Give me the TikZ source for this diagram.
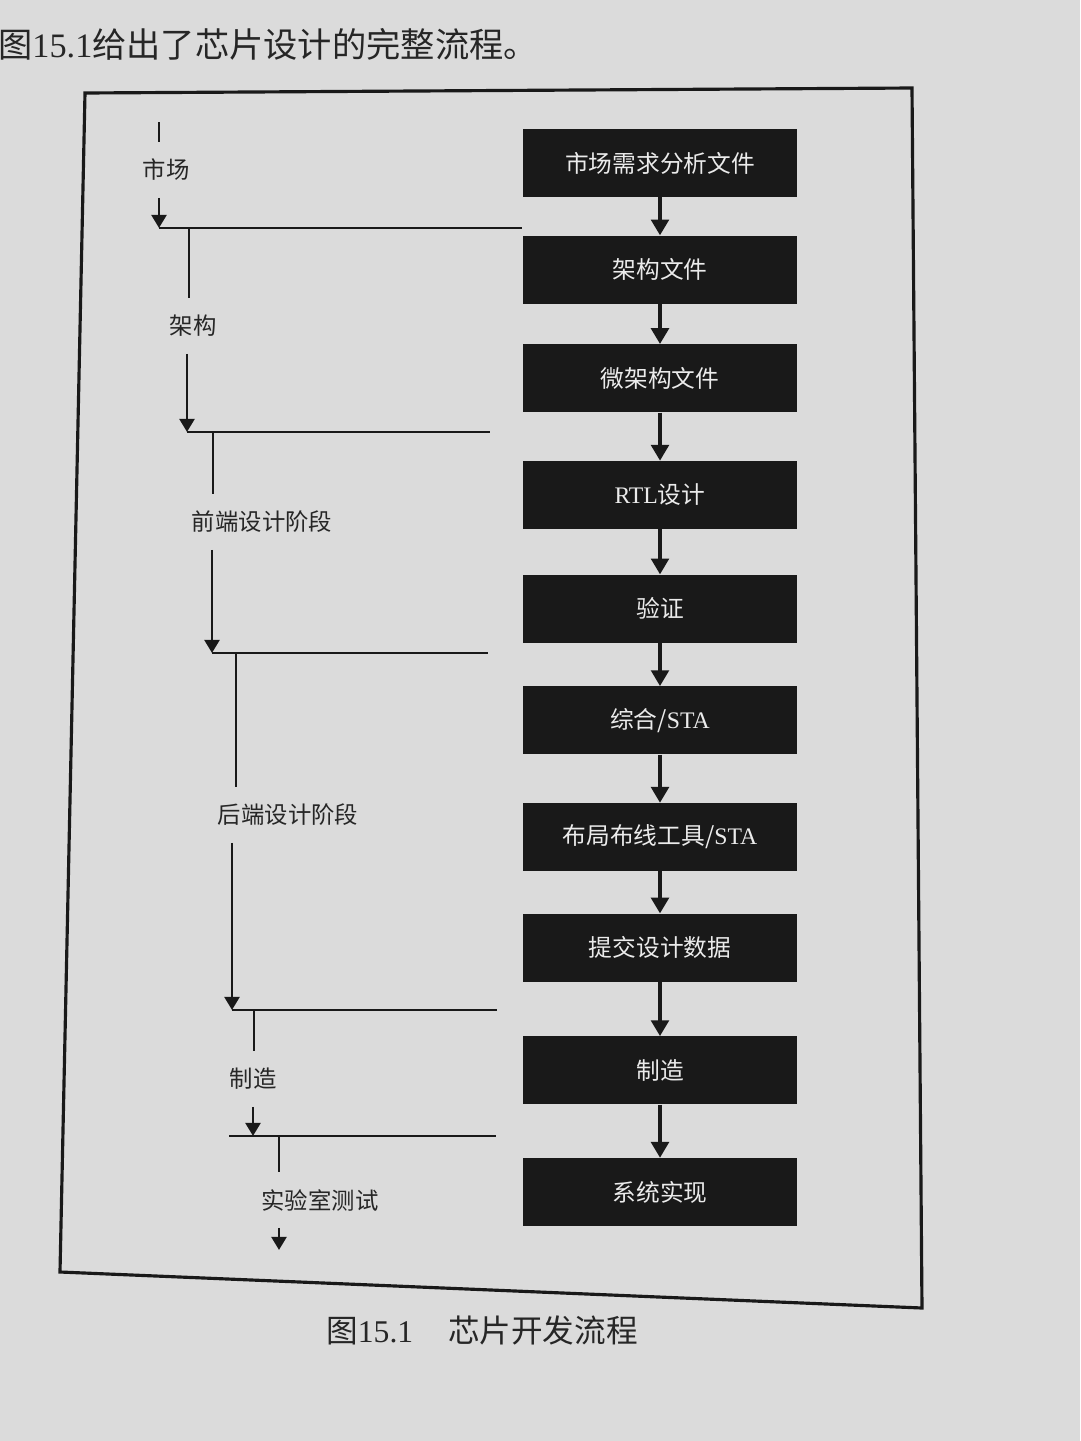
\documentclass[tikz,border=0pt]{standalone}
\usepackage{fontspec}
\setmainfont{Liberation Serif}
\newfontfamily\cjk{Noto Sans CJK SC}
\usetikzlibrary{positioning,arrows.meta}

\begin{document}
\begin{tikzpicture}[x=0.02cm, y=-0.02cm, node distance=0.9cm,
    stagebox/.style={fill=black!90, text=black!8, minimum width=5.5cm, minimum height=1.36cm, font=\cjk\fontsize{13.5}{16}\selectfont},
    phase/.style={text=black!85, minimum height=1.1cm, inner sep=0pt, font=\cjk\fontsize{13.3}{16}\selectfont},
    flow/.style={-{Triangle[length=9pt,width=10pt]}, line width=2.1pt, black!90},
    feed/.style={line width=1.6pt, black!90},
    feedarrow/.style={-{Triangle[length=7.5pt,width=8.5pt]}, line width=1.6pt, black!90}]

    % paper and bounding box
    \fill[black!14] (0,0) rectangle (1080,1441);
    \useasboundingbox (0,0) rectangle (1080,1441);

    % text around the figure
    \node[anchor=west, text=black!85, font=\cjk\fontsize{19.5}{21}\selectfont] (intro) at (-8,44) {图{\rmfamily 15.1}给出了芯片设计的完整流程。};
    \node[text=black!85, font=\cjk\fontsize{18}{20}\selectfont] (caption) at (482,1330) {图{\rmfamily 15.1}\hspace{1.1em}芯片开发流程};

    % frame
    \draw[line width=1.8pt, black!90] (85,93) -- (912,88) -- (922,1308) -- (60,1272) -- cycle;

    % right column: documents and tools
    \node[stagebox] (mkt) at (660,163) {市场需求分析文件};
    \node[stagebox, below=0.76cm of mkt] (arch) {架构文件};
    \node[stagebox, below=0.8cm of arch] (uarch) {微架构文件};
    \node[stagebox, below=0.96cm of uarch] (rtl) {{\rmfamily RTL}设计};
    \node[stagebox, below=0.9cm of rtl] (verif) {验证};
    \node[stagebox, below=0.86cm of verif] (synth) {综合/{\rmfamily STA}};
    \node[stagebox, below=0.96cm of synth] (pnr) {布局布线工具/{\rmfamily STA}};
    \node[stagebox, below=0.84cm of pnr] (tapeout) {提交设计数据};
    \node[stagebox, below=1.08cm of tapeout] (fab) {制造};
    \node[stagebox, below=1.06cm of fab] (sys) {系统实现};

    \path (mkt) edge [flow] (arch);
    \path (arch) edge [flow] (uarch);
    \path (uarch) edge [flow] (rtl);
    \path (rtl) edge [flow] (verif);
    \path (verif) edge [flow] (synth);
    \path (synth) edge [flow] (pnr);
    \path (pnr) edge [flow] (tapeout);
    \path (tapeout) edge [flow] (fab);
    \path (fab) edge [flow] (sys);

    % left column: phases
    \node[phase] (lmkt) at (166,170) {市场};
    \node[phase] (larch) at (193,326) {架构};
    \node[phase] (lfront) at (262,522) {前端设计阶段};
    \node[phase] (lback) at (288,815) {后端设计阶段};
    \node[phase] (lfab) at (253,1079) {制造};
    \node[phase] (llab) at (320,1200) {实验室测试};

    \coordinate (m0) at (159,122);
    \coordinate (j1) at (159,228);  \coordinate (e1) at (522,228);  \coordinate (s1) at (189,228);
    \coordinate (j2) at (187,432);  \coordinate (e2) at (490,432);  \coordinate (s2) at (213,432);
    \coordinate (j3) at (212,653);  \coordinate (e3) at (488,653);  \coordinate (s3) at (236,653);
    \coordinate (j4) at (232,1010); \coordinate (e4) at (497,1010); \coordinate (s4) at (254,1010);
    \coordinate (j5) at (253,1136); \coordinate (h5) at (229,1136); \coordinate (e5) at (496,1136); \coordinate (s5) at (279,1136);
    \coordinate (out) at (279,1250);

    \draw[feed] (m0) -- (m0 |- lmkt.north);
    \draw[feedarrow] (lmkt.south -| m0) -- (j1);
    \draw[feed] (j1) -- (e1);

    \draw[feed] (s1) -- (s1 |- larch.north);
    \draw[feedarrow] (larch.south -| j2) -- (j2);
    \draw[feed] (j2) -- (e2);

    \draw[feed] (s2) -- (s2 |- lfront.north);
    \draw[feedarrow] (lfront.south -| j3) -- (j3);
    \draw[feed] (j3) -- (e3);

    \draw[feed] (s3) -- (s3 |- lback.north);
    \draw[feedarrow] (lback.south -| j4) -- (j4);
    \draw[feed] (j4) -- (e4);

    \draw[feed] (s4) -- (s4 |- lfab.north);
    \draw[feedarrow] (lfab.south -| j5) -- (j5);
    \draw[feed] (h5) -- (e5);

    \draw[feed] (s5) -- (s5 |- llab.north);
    \draw[feedarrow] (llab.south -| out) -- (out);
\end{tikzpicture}
\end{document}
